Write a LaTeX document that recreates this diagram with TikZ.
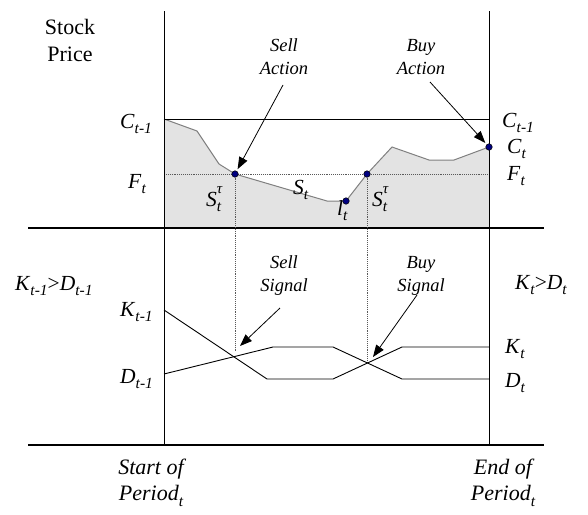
\documentclass[tikz,border=0pt]{standalone}
\usepackage{fontspec}
\setmainfont{Liberation Serif}
\usetikzlibrary{arrows.meta}
\newcommand\lowsub[1]{\raisebox{-0.6ex}{\fontsize{15.5}{15.5}\selectfont\itshape #1}}
\newcommand\vsym[2]{\textit{#1}\lowsub{#2}}
\newcommand\vtau[1]{\textit{#1}\rlap{\raisebox{1.3ex}{\fontsize{15}{15}\selectfont\itshape τ}}\lowsub{t}}
\tikzset{
  frameline/.style={line width=1pt, black},
  axisline/.style={line width=2.4pt, black},
  guideline/.style={line width=0.9pt, gray!70!black, densely dotted},
  pricecurve/.style={line width=1pt, gray},
  maline/.style={line width=0.9pt, black},
  arrowline/.style={line width=0.8pt, black, -{Triangle[length=12pt,width=9pt]}},
  dotnode/.style={circle, fill=blue!50!black, draw=black, line width=0.5pt, inner sep=0pt, minimum size=6.5pt},
  varlabel/.style={inner sep=0pt, anchor=base west, font=\fontsize{21.5}{25}\selectfont},
  captext/.style={inner sep=0pt, align=center, font=\fontsize{18.5}{23}\selectfont\itshape},
  headtext/.style={inner sep=0pt, align=center, font=\fontsize{22}{27}\selectfont},
}
\begin{document}
\begin{tikzpicture}[x=1pt,y=-1pt]
\useasboundingbox (0,0) rectangle (588,514);
% shaded price region
\fill[black!11] (164,228) -- (164,119) -- (197,131) -- (219,164) -- (235,174) -- (327,201) -- (346,201) -- (367,174) -- (392,147) -- (429,160) -- (454,160) -- (489,147) -- (489,228) -- cycle;
\draw[pricecurve] (164,119) -- (197,131) -- (219,164) -- (235,174) -- (327,201) -- (346,201) -- (367,174) -- (392,147) -- (429,160) -- (454,160) -- (489,147);
% coordinates
\coordinate (ltop) at (164,11);
\coordinate (lbot) at (164,445);
\coordinate (rtop) at (489,11);
\coordinate (rbot) at (489,445);
\coordinate (cl) at (164,119);
\coordinate (cr) at (489,119);
\coordinate (fl) at (164,174);
\coordinate (fr) at (489,174);
\coordinate (ax1l) at (28,228);
\coordinate (ax1r) at (544,228);
\coordinate (ax2l) at (28,445);
\coordinate (ax2r) at (544,445);
\coordinate (x2) at (367,363);
\coordinate (s1end) at (235,352);
% frame lines
\draw[frameline] (cl) -- (cr);
\draw[guideline] (fl) -- (fr);
\draw[frameline] (ltop) -- (lbot);
\draw[frameline] (rtop) -- (rbot);
\draw[axisline] (ax1l) -- (ax1r);
\draw[axisline] (ax2l) -- (ax2r);
% dots
\node[dotnode] (sd1) at (235,174) {};
\node[dotnode] (ld) at (346,201) {};
\node[dotnode] (sd2) at (367,174) {};
\node[dotnode] (cd) at (489,147) {};
% vertical dotted
\draw[guideline] (sd1) -- (s1end);
\draw[guideline] (sd2) -- (x2);
% K and D lines
\coordinate (k0) at (164,310);
\coordinate (d0) at (164,374);
\coordinate (k1) at (489,347);
\coordinate (d1) at (489,379);
\draw[maline] (k0) -- (267,379) -- (333,379) -- (402,347) -- (k1);
\draw[maline] (d0) -- (273,347) -- (333,347) -- (402,379) -- (d1);
% labels
\node[headtext] (stock) at (70,40) {Stock\\Price};
\node[captext] (sellact) at (284,57) {Sell\\Action};
\node[captext] (buyact) at (421,57) {Buy\\Action};
\node[captext] (sellsig) at (284,276) {Sell\\Signal};
\node[captext] (buysig) at (421,276) {Buy\\Signal};
\node[varlabel] (cl1) at (120,128) {\vsym{C}{t-1}};
\node[varlabel] (fl1) at (128,188) {\vsym{F}{t}};
\node[varlabel] (cr1) at (502,127) {\vsym{C}{t-1}};
\node[varlabel] (cr2) at (507,153) {\vsym{C}{t}};
\node[varlabel] (fr1) at (507,180) {\vsym{F}{t}};
\node[varlabel] (st1) at (206,206) {\vtau{S}};
\node[varlabel] (st) at (293,194) {\vsym{S}{t}};
\node[varlabel] (lt) at (337,215) {\vsym{l}{t}};
\node[varlabel] (st2) at (372,206) {\vtau{S}};
\node[varlabel] (kd1) at (15,290) {\vsym{K}{t-1}>\vsym{D}{t-1}};
\node[varlabel] (kd2) at (515,289) {\vsym{K}{t}>\vsym{D}{t}};
\node[varlabel] (kl) at (120,316) {\vsym{K}{t-1}};
\node[varlabel] (dl) at (120,383) {\vsym{D}{t-1}};
\node[varlabel] (kr) at (505,353) {\vsym{K}{t}};
\node[varlabel] (dr) at (505,387) {\vsym{D}{t}};
\node[headtext, font=\fontsize{22}{26}\selectfont\itshape] (start) at (151,483) {Start of\\Period\lowsub{t}};
\node[headtext, font=\fontsize{22}{26}\selectfont\itshape] (end) at (503,483) {End of\\Period\lowsub{t}};
% arrows
\coordinate (sat) at (283,85);
\coordinate (bat) at (430,82);
\coordinate (sst) at (280,308);
\coordinate (bst) at (417,295);
\coordinate (ssh) at (240,346);
\coordinate (bsh) at (373,357);
\draw[arrowline, shorten >=2pt] (sat) -- (sd1);
\draw[arrowline, shorten >=2pt] (bat) -- (cd);
\draw[arrowline] (sst) -- (ssh);
\draw[arrowline] (bst) -- (bsh);
\end{tikzpicture}
\end{document}
